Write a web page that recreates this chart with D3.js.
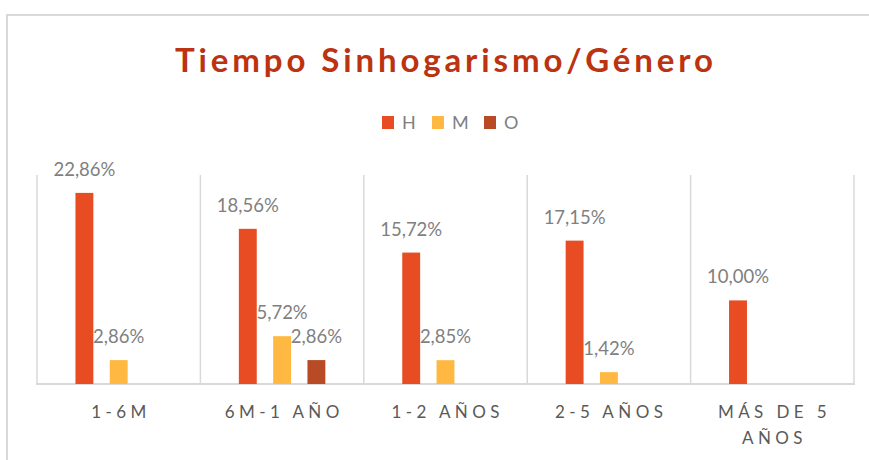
<!DOCTYPE html>
<html>
<head>
    <meta charset="utf-8">
    <title>Tiempo Sinhogarismo/Género</title>
    <script src="https://d3js.org/d3.v7.min.js"></script>
    <style>
        body { margin: 0; background: #fff; }
        text { font-family: Lato, "Open Sans", sans-serif; }
        .grid line { stroke: #d9d9d9; stroke-width: 1.5px; }
        .label { fill: #7f7f7f; font-size: 18.5px; }
        .tick-label { fill: #595959; font-size: 17px; letter-spacing: 4.4px; }
    </style>
</head>
<body>
<script>
    // Data
    var categories = ["1-6M", "6M-1 AÑO", "1-2 AÑOS", "2-5 AÑOS", "MÁS DE 5 AÑOS"];
    var seriesNames = ["H", "M", "O"];
    var valuesH = [22.86, 18.56, 15.72, 17.15, 10.00];
    var valuesM = [2.86, 5.72, 2.85, 1.42, 0];
    var valuesO = [0, 2.86, 0, 0, 0];
    var colors = ["#e84c22", "#ffb942", "#b84a26"];

    var seriesValues = [valuesH, valuesM, valuesO];

    // Layout
    var W = 869, H = 460;
    var plot = {left: 37, right: 854, top: 175, bottom: 384};

    var svg = d3.select("body").append("svg")
        .attr("width", W)
        .attr("height", H);

    // chart border (cropped at right / bottom)
    svg.append("rect")
        .attr("x", 7).attr("y", 15)
        .attr("width", W + 20).attr("height", H + 20)
        .attr("fill", "#fff")
        .attr("stroke", "#d9d9d9")
        .attr("stroke-width", 2);

    // Scales
    var x0 = d3.scaleBand()
        .domain(categories)
        .range([plot.left, plot.right])
        .paddingInner(0.27)
        .paddingOuter(0.135);

    var x1 = d3.scaleBand()
        .domain(seriesNames)
        .range([0, x0.bandwidth()])
        .padding(0.478);

    var y = d3.scaleLinear()
        .domain([0, 25])
        .range([plot.bottom, plot.top]);

    var color = d3.scaleOrdinal().domain(seriesNames).range(colors);

    // Title
    svg.append("text")
        .attr("x", 444)
        .attr("y", 72)
        .attr("text-anchor", "middle")
        .attr("textLength", 538)
        .attr("lengthAdjust", "spacing")
        .style("font-size", "33px")
        .style("font-weight", "bold")
        .style("fill", "#bb3310")
        .text("Tiempo Sinhogarismo/Género");

    // Legend
    var legendX = [382, 432, 484];
    var legend = svg.append("g").selectAll("g")
        .data(seriesNames)
        .join("g")
        .attr("transform", function(d, i) { return "translate(" + legendX[i] + ",116)"; });

    legend.append("rect")
        .attr("width", 12)
        .attr("height", 13)
        .attr("fill", function(d) { return color(d); });

    legend.append("text")
        .attr("x", 20)
        .attr("y", 13)
        .attr("class", "label")
        .style("font-size", "18px")
        .text(function(d) { return d; });

    // Vertical category separators + baseline
    var step = x0.step();
    var edges = categories.map(function(c) { return x0(c) - x0.paddingOuter() * step; });
    edges.push(plot.right);

    var grid = svg.append("g").attr("class", "grid");
    grid.selectAll("line.v")
        .data(edges)
        .join("line")
        .attr("class", "v")
        .attr("x1", function(d) { return d; })
        .attr("x2", function(d) { return d; })
        .attr("y1", y(25))
        .attr("y2", y(0));

    grid.append("line")
        .attr("x1", plot.left - 1)
        .attr("x2", plot.right + 1)
        .attr("y1", y(0))
        .attr("y2", y(0))
        .style("stroke-width", "2px");

    // Bars
    var rows = [];
    categories.forEach(function(c, ci) {
        seriesNames.forEach(function(s, si) {
            rows.push({cat: c, series: s, value: seriesValues[si][ci]});
        });
    });
    var shown = rows.filter(function(d) { return d.value > 0; });

    svg.append("g").selectAll("rect")
        .data(shown)
        .join("rect")
        .attr("x", function(d) { return x0(d.cat) + x1(d.series); })
        .attr("y", function(d) { return y(d.value); })
        .attr("width", x1.bandwidth())
        .attr("height", function(d) { return y(0) - y(d.value); })
        .attr("fill", function(d) { return color(d.series); });

    // Value labels
    var fmt = function(v) { return v.toFixed(2).replace(".", ",") + "%"; };
    svg.append("g").selectAll("text")
        .data(shown)
        .join("text")
        .attr("class", "label")
        .attr("text-anchor", "middle")
        .attr("x", function(d) { return x0(d.cat) + x1(d.series) + x1.bandwidth() / 2; })
        .attr("y", function(d) { return y(d.value) - 17; })
        .text(function(d) { return fmt(d.value); });

    // Category labels (wrapped)
    var ticks = svg.append("g").selectAll("text")
        .data(categories)
        .join("text")
        .attr("class", "tick-label")
        .attr("text-anchor", "middle")
        .attr("x", function(d) { return x0(d) + x0.bandwidth() / 2 + 2.2; })
        .attr("y", 418);

    ticks.each(function(d) {
        var t = d3.select(this);
        var words = d.split(" ");
        var line = [];
        var cx = t.attr("x");
        var tspan = t.append("tspan").attr("x", cx).attr("dy", 0);
        words.forEach(function(w) {
            line.push(w);
            tspan.text(line.join(" "));
            if (tspan.node().getComputedTextLength() > 150 && line.length > 1) {
                line.pop();
                tspan.text(line.join(" "));
                line = [w];
                tspan = t.append("tspan").attr("x", cx).attr("dy", 26).text(w);
            }
        });
    });
</script>
</body>
</html>
